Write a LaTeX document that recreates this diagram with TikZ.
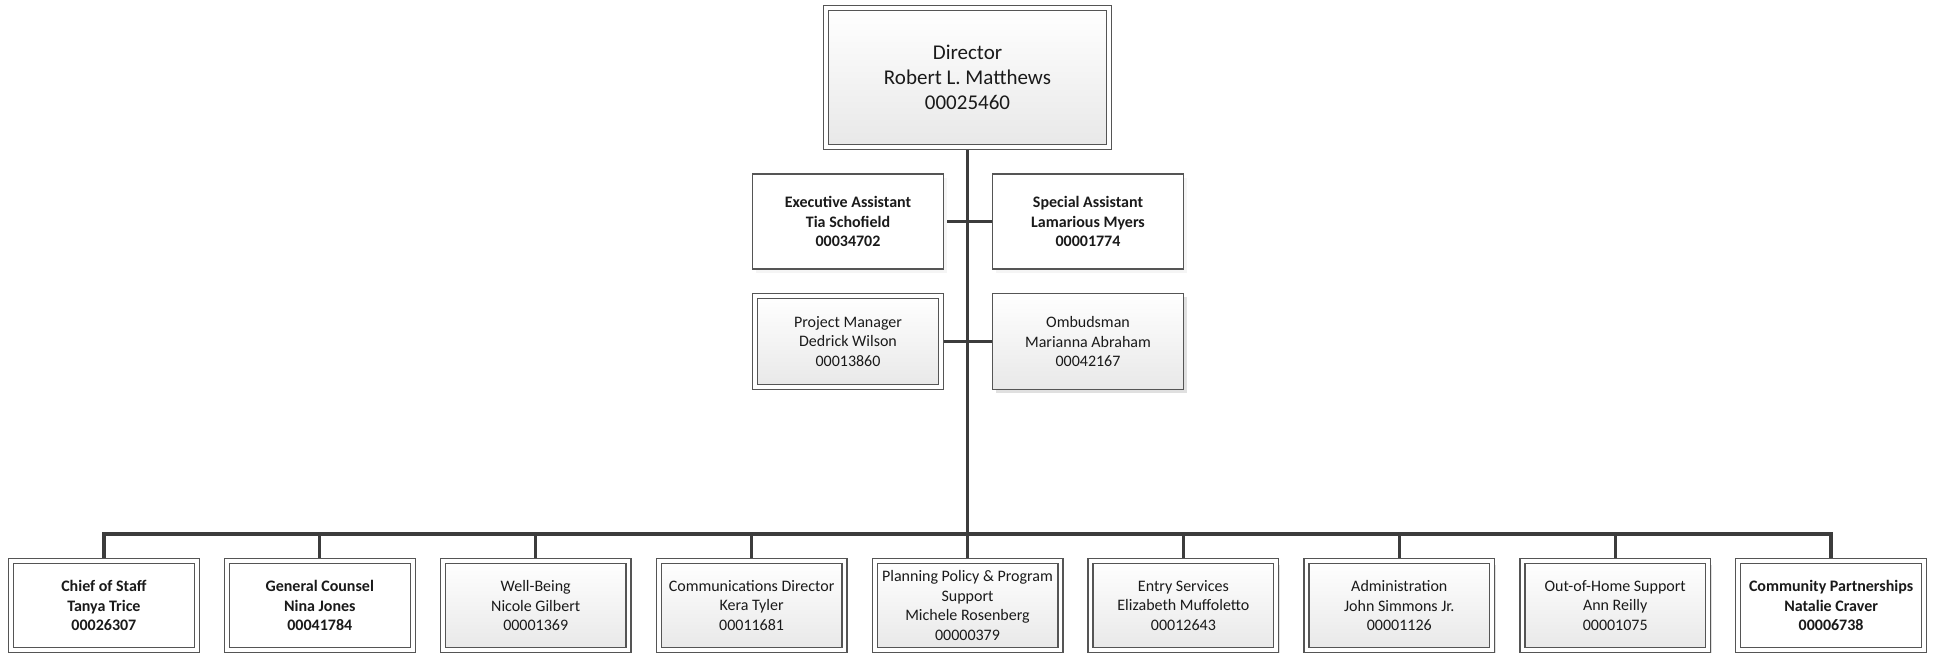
\documentclass[tikz,border=0pt]{standalone}
\usepackage{fontspec}
\setmainfont{Carlito}
\usetikzlibrary{shadows,backgrounds}
\definecolor{linec}{HTML}{3C3C3C}
\definecolor{boxc}{HTML}{555555}
\definecolor{txt}{HTML}{1A1A1A}
\tikzset{
  base/.style={rectangle, draw=boxc, line width=1.2pt, align=center, text=txt,
    outer sep=0pt, inner sep=0pt, font=\fontsize{16}{19.5}\selectfont},
  grad/.style={top color=white, bottom color=black!9,
    drop shadow={shadow xshift=3.5pt, shadow yshift=-3.5pt, fill=black!12, opacity=1}},
  plain/.style={fill=white, font=\fontsize{16}{19.5}\selectfont\bfseries,
    drop shadow={shadow xshift=3.5pt, shadow yshift=-3.5pt, fill=black!4, opacity=1}},
  dbl/.style={double=white, double distance=3.7pt, line width=1.3pt},
  bottombox/.style={base, dbl, minimum width=185.7pt, minimum height=88.7pt},
  midbox/.style={base, minimum width=190.8pt, minimum height=95pt},
  conn/.style={draw=linec, line width=3.3pt},
}
\begin{document}
\begin{tikzpicture}[x=1pt,y=-1pt]
\useasboundingbox (0,0) rectangle (1937,654);

% Director
\node[base, grad, dbl, minimum width=282.7pt, minimum height=138.7pt,
  font=\fontsize{21}{25}\selectfont] (dir) at (967.5,77.5)
  {Director\\Robert L. Matthews\\00025460};

% Assistants
\node[midbox, plain] (ea) at (848,221.5) {Executive Assistant\\Tia Schofield\\00034702};
\node[midbox, plain] (sa) at (1088,221.5) {Special Assistant\\Lamarious Myers\\00001774};
\node[base, grad, dbl, minimum width=185.7pt, minimum height=90.7pt] (pm) at (848,341.5)
  {Project Manager\\Dedrick Wilson\\00013860};
\node[midbox, grad, minimum height=96pt] (om) at (1088,341.5)
  {Ombudsman\\Marianna Abraham\\00042167};

% Bottom row
\node[bottombox, plain] (b0) at (103.9,605.5) {Chief of Staff\\Tanya Trice\\00026307};
\node[bottombox, plain] (b1) at (319.8,605.5) {General Counsel\\Nina Jones\\00041784};
\node[bottombox, grad] (b2) at (535.7,605.5) {Well-Being\\Nicole Gilbert\\00001369};
\node[bottombox, grad] (b3) at (751.6,605.5) {Communications Director\\Kera Tyler\\00011681};
\node[bottombox, grad] (b4) at (967.5,605.5) {Planning Policy \& Program\\Support\\Michele Rosenberg\\00000379};
\node[bottombox, grad] (b5) at (1183.4,605.5) {Entry Services\\Elizabeth Muffoletto\\00012643};
\node[bottombox, grad] (b6) at (1399.3,605.5) {Administration\\John Simmons Jr.\\00001126};
\node[bottombox, grad] (b7) at (1615.2,605.5) {Out-of-Home Support\\Ann Reilly\\00001075};
\node[bottombox, plain] (b8) at (1831.1,605.5) {Community Partnerships\\Natalie Craver\\00006738};

% Connectors
\coordinate (bus) at (967.5,534);
\begin{scope}[on background layer]
  \draw[conn] (dir.south) -- (bus);
  \draw[conn] (ea.east) -- (sa.west);
  \draw[conn] (pm.east) -- (om.west);
  \foreach \n in {b0,b1,b2,b3,b4,b5,b6,b7,b8}
    \draw[conn] (bus) -| (\n.north);
\end{scope}
\end{tikzpicture}
\end{document}
